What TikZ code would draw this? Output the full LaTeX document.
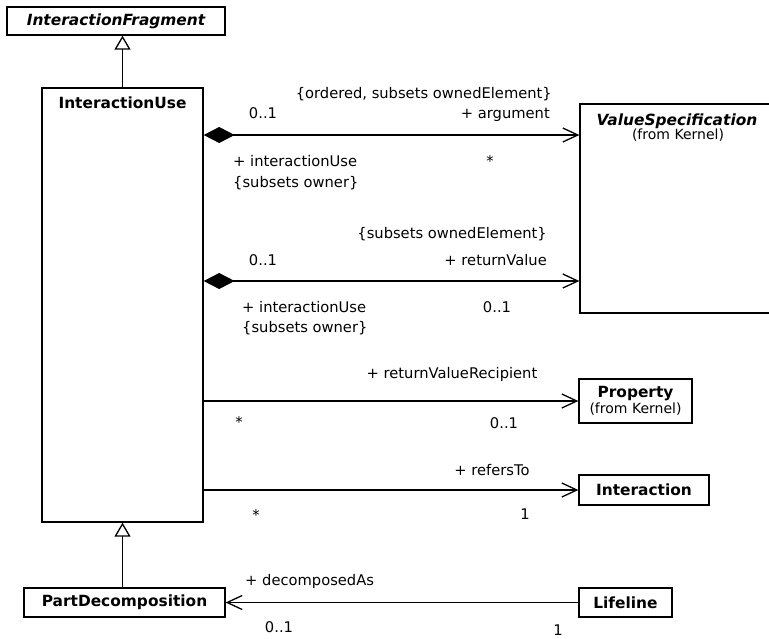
\documentclass[tikz,border=0pt]{standalone}
\usepackage{fontspec}
\setmainfont{DejaVu Sans}
\usetikzlibrary{arrows.meta, positioning}

\begin{document}
\begin{tikzpicture}[
  x=1pt, y=-1pt,
  font=\fontsize{14.7pt}{17pt}\selectfont,
  cls/.style={draw, line width=1.3pt, inner sep=0pt, align=center,
              font=\fontsize{15.4pt}{17pt}\selectfont\bfseries},
  clsname/.style={inner sep=0pt, font=\fontsize{15.4pt}{17pt}\selectfont\bfseries},
  pkg/.style={inner sep=0pt, font=\fontsize{14pt}{16pt}\selectfont},
  gen/.style={-{Triangle[length=14pt, width=16pt, fill=white]}, line width=1.3pt},
  nav/.style={-{Straight Barb[length=15pt, width=14pt]}, line width=1.3pt},
  comp/.style={{Diamond[length=31pt, width=16pt]}-{Straight Barb[length=15pt, width=14pt]},
               line width=1.3pt},
  lb/.style={inner sep=0pt, anchor=base},
  lbl/.style={lb, anchor=base west},
  lbr/.style={lb, anchor=base east}]

  \useasboundingbox (0,0) rectangle (769,638);

  \node[cls, minimum width=218pt, minimum height=28pt, font=\fontsize{15.4pt}{17pt}\selectfont\bfseries\itshape]
    (frag) at (116,21) {InteractionFragment};
  \node[cls, minimum width=161pt, minimum height=434pt] (iuse) at (122.5,305) {};
  \node[clsname, below=9pt of iuse.north] (iusename) {InteractionUse};
  \node[cls, minimum width=194pt, minimum height=209pt] (vspec) at (677,208.5) {};
  \node[clsname, anchor=base] (vspecname) at (677,125) {\itshape ValueSpecification};
  \node[pkg, anchor=base] (vspecpkg) at (678,139) {(from Kernel)};
  \node[cls, minimum width=113pt, minimum height=44pt] (prop) at (635.5,401)
    {Property\\[-1pt]{\normalfont\fontsize{14pt}{16pt}\selectfont (from Kernel)}};
  \node[cls, minimum width=130pt, minimum height=30pt] (inter) at (644,490) {Interaction};
  \node[cls, minimum width=201pt, minimum height=29pt] (pdec) at (124.5,602.5) {PartDecomposition};
  \node[cls, minimum width=93pt, minimum height=29pt] (life) at (625.5,602.5) {Lifeline};

  \coordinate (argrow) at (0,135);
  \coordinate (retrow) at (0,281);

  \draw[gen] (iuse.north) -- (iuse.north |- frag.south);
  \draw[gen] (iuse.south |- pdec.north) -- (iuse.south);
  \draw[comp] (iuse.east |- argrow) -- (vspec.west |- argrow);
  \draw[comp] (iuse.east |- retrow) -- (vspec.west |- retrow);
  \draw[nav] (iuse.east |- prop.west) -- (prop.west);
  \draw[nav] (iuse.east |- inter.west) -- (inter.west);
  \draw[nav] (life.west) -- (pdec.east);

  \node[lbr] (argcon) at (552,98) {\{ordered, subsets ownedElement\}};
  \node[lb] (argsrcm) at (263,118) {0..1};
  \node[lbr] (argrole) at (550,118) {+ argument};
  \node[lbl] (argsrc) at (233,166) {+ interactionUse};
  \node[lb] (argm) at (490,166) {*};
  \node[lbl] (argsrccon) at (233,187) {\{subsets owner\}};

  \node[lbr] (retcon) at (547,238) {\{subsets ownedElement\}};
  \node[lb] (retsrcm) at (263,265) {0..1};
  \node[lbr] (retrole) at (547,265) {+ returnValue};
  \node[lbl] (retsrc) at (242,312) {+ interactionUse};
  \node[lb] (retm) at (497,312) {0..1};
  \node[lbl] (retsrccon) at (242,332) {\{subsets owner\}};

  \node[lb] (reciprole) at (452,378) {+ returnValueRecipient};
  \node[lb] (recipsrcm) at (239,427) {*};
  \node[lb] (recipm) at (504,428) {0..1};

  \node[lb] (refrole) at (492,475) {+ refersTo};
  \node[lb] (refsrcm) at (256,520) {*};
  \node[lb] (refm) at (525,519) {1};

  \node[lbl] (decrole) at (245,585) {+ decomposedAs};
  \node[lb] (decm) at (279,632) {0..1};
  \node[lb] (decsrcm) at (558,635) {1};
\end{tikzpicture}
\end{document}
